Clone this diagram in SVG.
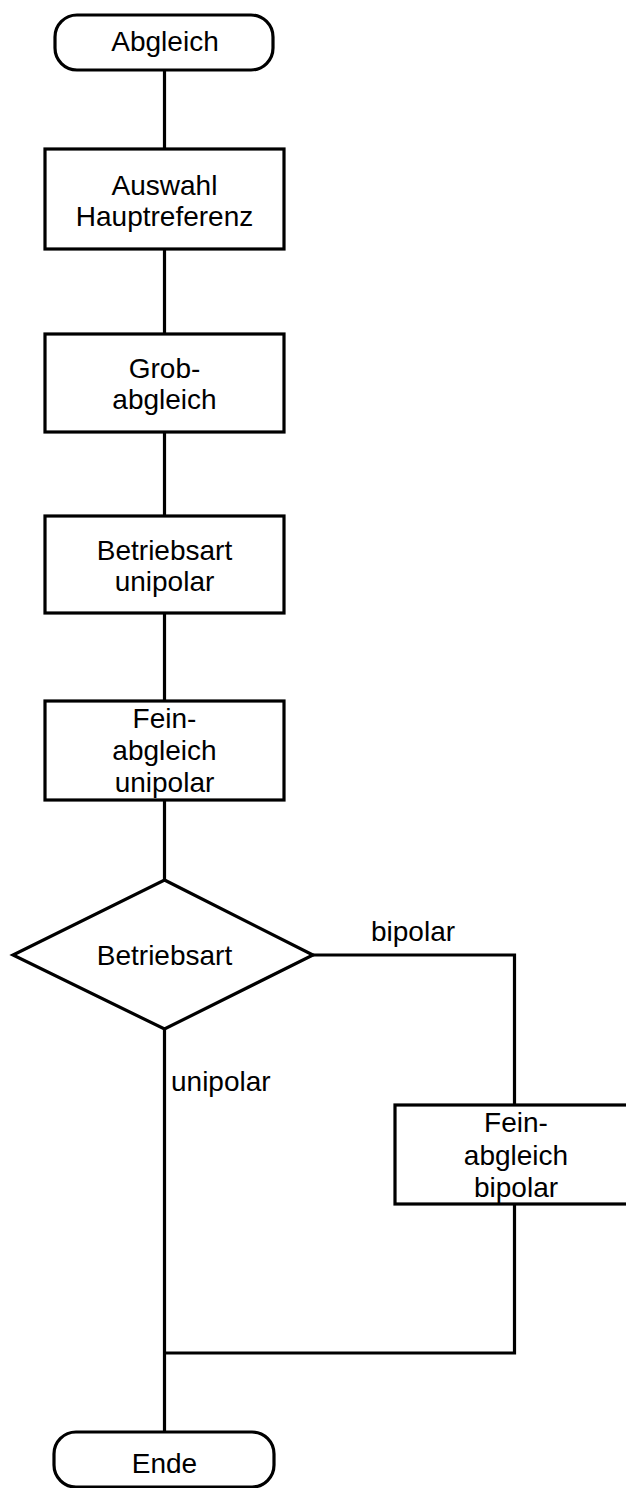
<svg xmlns="http://www.w3.org/2000/svg" width="626" height="1488" viewBox="0 0 626 1488">
<style>
.s{fill:#fff;stroke:#000;stroke-width:3.2}
.c{fill:none;stroke:#000;stroke-width:3.2}
text{font-family:"Liberation Sans",Arial,sans-serif;font-size:28px;fill:#000}
.m{text-anchor:middle}
</style>
<rect width="626" height="1488" fill="#fff"/>
<g id="connectors">
<line class="c" x1="164.5" y1="70" x2="164.5" y2="149"/>
<line class="c" x1="164.5" y1="249" x2="164.5" y2="334"/>
<line class="c" x1="164.5" y1="432" x2="164.5" y2="516"/>
<line class="c" x1="164.5" y1="613" x2="164.5" y2="701"/>
<line class="c" x1="164.5" y1="800" x2="164.5" y2="880"/>
<line class="c" x1="164.5" y1="1029" x2="164.5" y2="1432"/>
<polyline class="c" points="313,955 514.5,955 514.5,1105"/>
<polyline class="c" points="514.5,1204 514.5,1353 164.5,1353"/>
<text x="371" y="941">bipolar</text>
<text x="171" y="1091">unipolar</text>
</g>
<g id="start">
<rect class="s" x="55" y="15" width="218" height="55" rx="22"/>
<text class="m" x="165" y="51">Abgleich</text>
</g>
<g id="auswahl">
<rect class="s" x="45" y="149" width="239" height="100"/>
<text class="m" x="164.5" y="195">Auswahl</text>
<text class="m" x="164.5" y="226">Hauptreferenz</text>
</g>
<g id="grob">
<rect class="s" x="45" y="334" width="239" height="98"/>
<text class="m" x="164.5" y="378">Grob-</text>
<text class="m" x="164.5" y="409">abgleich</text>
</g>
<g id="betriebsart-unipolar">
<rect class="s" x="45" y="516" width="239" height="97"/>
<text class="m" x="164.5" y="560">Betriebsart</text>
<text class="m" x="164.5" y="591">unipolar</text>
</g>
<g id="fein-unipolar">
<rect class="s" x="45" y="701" width="239" height="99"/>
<text class="m" x="164.5" y="728">Fein-</text>
<text class="m" x="164.5" y="760">abgleich</text>
<text class="m" x="164.5" y="792">unipolar</text>
</g>
<g id="decision">
<polygon class="s" points="164.5,880 313,955 164.5,1029 13,955"/>
<text class="m" x="164.5" y="965">Betriebsart</text>
</g>
<g id="fein-bipolar">
<rect class="s" x="395" y="1105" width="239" height="99"/>
<text class="m" x="516" y="1132">Fein-</text>
<text class="m" x="516" y="1165">abgleich</text>
<text class="m" x="516" y="1197">bipolar</text>
</g>
<g id="end">
<rect class="s" x="54" y="1432" width="220" height="55" rx="22"/>
<text class="m" x="164.5" y="1473">Ende</text>
</g>
</svg>
